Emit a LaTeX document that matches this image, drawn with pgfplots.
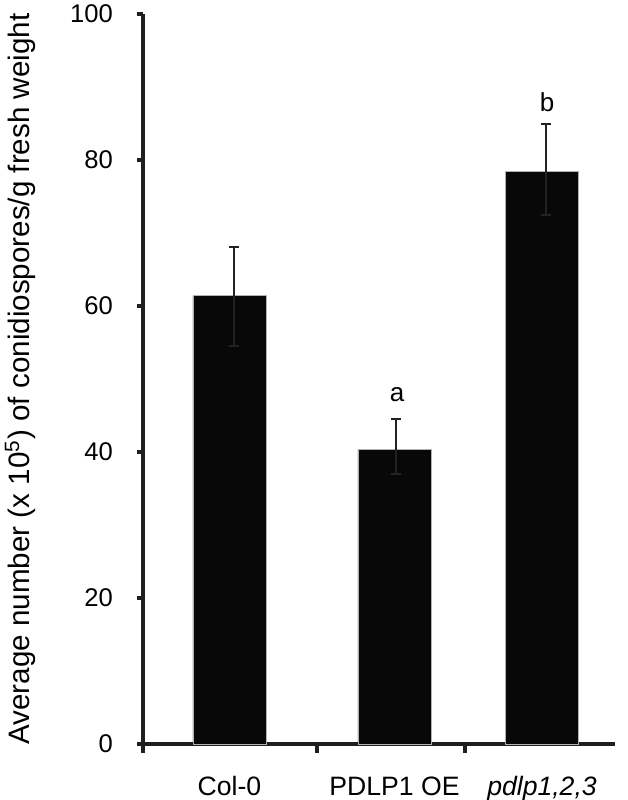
\documentclass[border=0pt]{standalone}
\usepackage{pgfplots}
\pgfplotsset{compat=1.18}
\usepackage{pgfplotstable}
\usepackage{fontspec}
\setmainfont{Liberation Sans}

\definecolor{barblack}{RGB}{8,8,8}
\definecolor{errgray}{RGB}{34,34,34}

% bar centres and error bar positions in pixel-like x units (0..472)
\pgfplotstableread{
x     y
86.5  61.4
251.5 40.4
399   78.4
}\bars
\pgfplotstableread{
x    y    ep   em
91   61.4 6.7  6.9
253  40.4 4.1  3.4
403  78.4 6.5  5.9
}\errs

\begin{document}
\begin{tikzpicture}
\useasboundingbox (-71.5pt,-28pt) rectangle (242.5pt,372pt);
\begin{axis}[
    at={(0,0)}, anchor=south west,
    scale only axis,
    width=236pt, height=365pt,
    xmin=0, xmax=472, ymin=0, ymax=100,
    axis lines=left,
    axis line style={line width=2.4pt, color=black!88, -},
    /pgf/number format/assume math mode=true,
    ytick={0,20,40,60,80,100},
    tick align=outside,
    ytick style={line width=2.4pt, color=black!88},
    major tick length=3pt,
    yticklabel style={font=\fontsize{12.8}{15}\selectfont, xshift=-8.5pt},
    xtick={86.5,251.5,399},
    xticklabels={Col-0, PDLP1 OE, \textit{pdlp1,2,3}},
    xtick style={draw=none},
    xticklabel style={font=\fontsize{13.3}{16}\selectfont, anchor=base, yshift=-23pt},
    extra x ticks={0,174,322},
    extra x tick labels={},
    extra x tick style={xtick style={draw=black!88, line width=2.4pt}, major tick length=4.5pt},
    ylabel={Average number (x 10\textsuperscript{5}) of conidiospores/g fresh weight},
    ylabel style={font=\fontsize{14.8}{17}\selectfont, at={(axis description cs:-0.26,0.5)}, anchor=center},
    clip=false,
]
\addplot[ybar, bar width=73, fill=barblack, draw=gray!60, line width=0.4pt] table[x=x, y=y] {\bars};
\addplot[draw=none, mark=none, forget plot,
    error bars/.cd, y dir=both, y explicit,
    error bar style={line width=0.7pt, color=errgray},
    error mark options={rotate=90, mark size=2.3pt, line width=0.9pt, color=errgray}]
    table[x=x, y=y, y error plus=ep, y error minus=em] {\errs};
\node[font=\fontsize{13}{15}\selectfont] at (axis cs:254,47.8) {a};
\node[font=\fontsize{13}{15}\selectfont] at (axis cs:404,87.9) {b};
\end{axis}
\end{tikzpicture}
\end{document}
